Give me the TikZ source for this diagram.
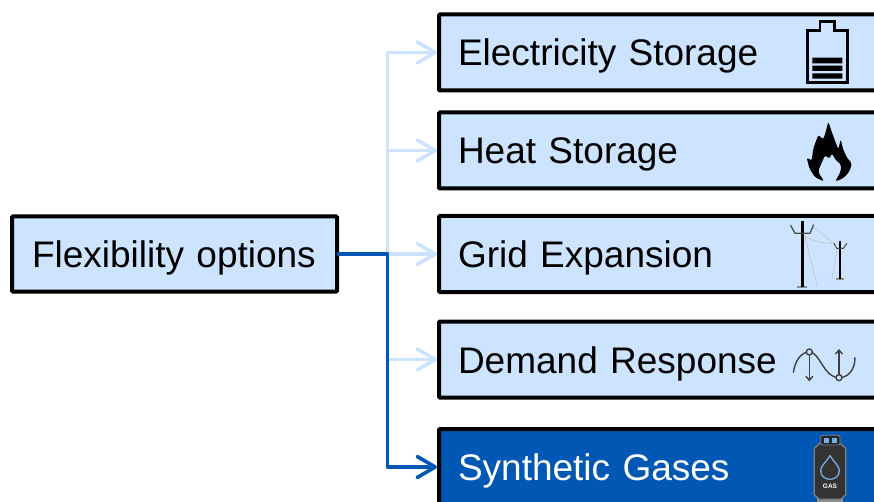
\documentclass[tikz,border=0pt]{standalone}
\usepackage{fontspec}
\setmainfont{Liberation Sans}
\usetikzlibrary{arrows.meta}
\definecolor{boxlight}{HTML}{CCE4FF}
\definecolor{linelight}{HTML}{CBE3FF}
\definecolor{boxdark}{HTML}{0058B4}
\tikzset{
  basebox/.style={draw=black,line width=4pt,rounded corners=1pt,outer sep=0pt,inner xsep=19pt,inner ysep=0pt,
    font=\fontsize{37}{42}\selectfont,text height=30pt,text depth=3pt},
  leafbox/.style={basebox,fill=boxlight,text=black,minimum width=442pt,minimum height=76pt,text width=404pt,inner xsep=17.5pt,align=left},
  activebox/.style={leafbox,fill=boxdark,text=white},
  rootbox/.style={basebox,fill=boxlight,minimum width=325pt,minimum height=75pt,text width=290pt,inner xsep=17.5pt,align=left},
  link/.style={line width=3.6pt,shorten >=2pt,line join=round,
    -{Straight Barb[length=18pt,width=21pt,line width=3.6pt,round]}},
  linklight/.style={link,draw=linelight},
  linkdark/.style={link,draw=boxdark},
  iconline/.style={draw=black!75,line width=1.4pt},
  faint/.style={draw=black!22,line width=.7pt},
}
\begin{document}
\begin{tikzpicture}[x=1pt,y=-1pt]
\useasboundingbox (0,0) rectangle (874,502);
\clip (0,0) rectangle (874,502);
\node[rootbox] (flex) at (174.5,254) {\hspace{2.5pt}Flexibility options};
\node[leafbox] (es) at (660,52.5) {Electricity Storage};
\node[leafbox] (hs) at (660,150.5) {Heat Storage};
\node[leafbox] (ge) at (660,254) {Grid Expansion};
\node[leafbox] (dr) at (660,359.5) {Demand Response};
\node[activebox] (sg) at (660,467) {Synthetic Gases};
\coordinate (bus) at (387.5,254);
\foreach \t in {es,hs,ge,dr}{
  \draw[linklight] (bus) |- (\t.west);
}
\draw[linkdark] (flex.east) -- (bus) |- (sg.west);

% battery
\begin{scope}[shift={(760,0)},x=.3333pt,y=-.3333pt]
\draw[black,line width=2.8pt,line join=miter] (180,92) -- (180,65) -- (223,65) -- (223,92) -- (263,92) -- (263,247) -- (142,247) -- (142,92) -- cycle;
\fill[black] (157,173) rectangle (247,190) (157,197) rectangle (247,213) (157,220) rectangle (247,236);
\end{scope}
% flame
\begin{scope}[shift={(760,0)},x=.3333pt,y=-.3333pt]
\fill[black,rounded corners=2pt] (205,365) -- (215,395) -- (228,430) -- (235,448) -- (242,418) -- (250,450) -- (262,475) -- (276,490) -- (268,515) -- (250,535) -- (226,544) -- (242,515) -- (243,492) -- (228,482) -- (216,460) -- (208,476) -- (195,466) -- (182,495) -- (174,515) -- (192,544) -- (165,532) -- (148,505) -- (140,473) -- (155,482) -- (160,445) -- (175,405) -- (190,418) -- (196,400) -- cycle;
\end{scope}
% poles
\begin{scope}[shift={(760,200)},x=.3333pt,y=-.3333pt]
\draw[faint] (135,110) -- (172,258);
\draw[faint] (135,110) .. controls (170,128) and (195,130) .. (222,130);
\draw[faint] (160,80) -- (222,130);
\draw[faint] (232,150) -- (215,240);
\fill[black!45] (110,258) rectangle (142,263);
\fill[black!45] (228,235) rectangle (252,240);
\draw[black,line width=2.8pt] (127,62) -- (127,260);
\draw[black,line width=1.7pt] (239,122) -- (239,236);
\draw[black!70,line width=1.3pt] (92,76) -- (105,100) -- (150,100) -- (161,74);
\draw[black!70,line width=1pt] (222,130) -- (230,145) -- (250,145) -- (261,130);
\end{scope}
% wave
\begin{scope}[shift={(760,200)},x=.3333pt,y=-.3333pt]
\draw[iconline] (100,518) .. controls (105,480) and (125,456) .. (148,456) .. controls (180,456) and (190,533) .. (237,533) .. controls (265,533) and (285,510) .. (285,472);
\draw[iconline,-{Straight Barb[length=4pt,width=7pt]}] (148,465) -- (148,544);
\draw[iconline,-{Straight Barb[length=4pt,width=7pt]}] (237,524) -- (237,447);
\draw[iconline,fill=boxlight] (148,456) circle (9);
\draw[iconline,fill=boxlight] (237,533) circle (9);
\end{scope}
% gas bottle
\begin{scope}[shift={(780,400)},x=.3333pt,y=-.3333pt]
\fill[black!45] (112,292) rectangle (188,306);
\draw[black!50,line width=1.2pt,fill=black!80] (103,145) -- (122,128) -- (178,128) -- (197,145) -- (197,285) -- (182,298) -- (118,298) -- (103,285) -- cycle;
\draw[black!50,fill=black!85,line width=.8pt,rounded corners=2pt] (122,135) -- (122,106) -- (180,106) -- (180,135) -- cycle;
\fill[boxlight!60!boxdark] (132,115) rectangle (170,128);
\fill[black!85] (146,115) rectangle (156,128);
\draw[boxlight!60!boxdark,line width=1.3pt] (150,167) .. controls (160,185) and (178,197) .. (178,212) .. controls (178,228) and (165,238) .. (150,238) .. controls (135,238) and (122,228) .. (122,212) .. controls (122,197) and (140,185) .. (150,167) -- cycle;
\node[text=white,font=\fontsize{6.5}{7}\selectfont\bfseries,inner sep=0pt] (gaslabel) at (150,258) {GAS};
\end{scope}
\end{tikzpicture}
\end{document}
